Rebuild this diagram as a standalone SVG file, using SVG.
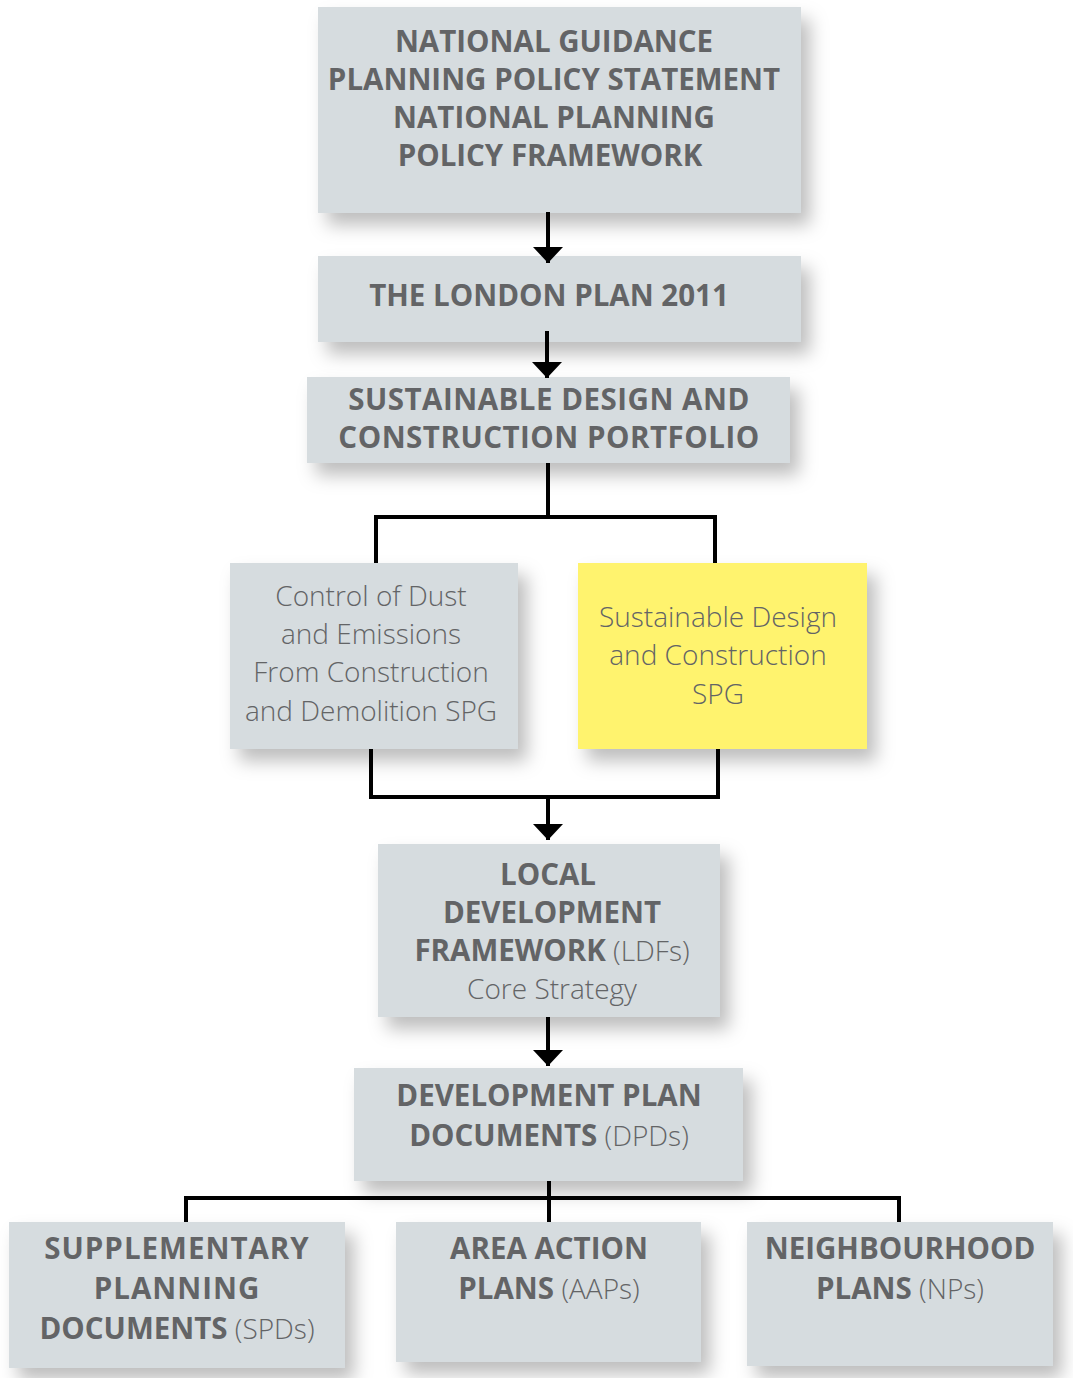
<svg xmlns="http://www.w3.org/2000/svg" width="1073" height="1378" viewBox="0 0 1073 1378">
<defs>
<filter id="sh" x="-20%" y="-20%" width="150%" height="160%">
<feDropShadow dx="9" dy="12" stdDeviation="9" flood-color="#000" flood-opacity="0.26"/>
</filter>
<marker id="ah" viewBox="0 0 16 30" refX="16" refY="15" markerWidth="16" markerHeight="30" markerUnits="userSpaceOnUse" orient="auto">
<path d="M0 0 L16 15 L0 30 Z" fill="#000"/>
</marker>
</defs>
<style>
.box{fill:#d6dcdf;filter:url(#sh)}
.y{fill:#fff36e}
text{font-family:"Open Sans","Noto Sans","Liberation Sans",sans-serif;fill:#636466;text-anchor:middle;font-size:28px}
.b{font-weight:700;font-size:29.5px;letter-spacing:0}
.lt{font-weight:300;font-size:28px;letter-spacing:0}
.w{letter-spacing:1px}
.h{letter-spacing:0.5px}
.c{fill:none;stroke:#000;stroke-width:4}
</style>
<rect width="1073" height="1378" fill="#fff"/>
<g id="n1"><rect class="box" x="318" y="7" width="483" height="206"/>
<text class="b" x="554" y="52">NATIONAL GUIDANCE</text>
<text class="b" x="554" y="90">PLANNING POLICY STATEMENT</text>
<text class="b" x="554" y="128">NATIONAL PLANNING</text>
<text class="b" x="550" y="166">POLICY FRAMEWORK</text></g>
<g id="n2"><rect class="box" x="318" y="256" width="483" height="86"/>
<text class="b" x="549" y="306">THE LONDON PLAN 2011</text></g>
<g id="n3"><rect class="box" x="307" y="377" width="483" height="86"/>
<text class="b h" x="549" y="410">SUSTAINABLE DESIGN AND</text>
<text class="b h" x="549" y="448">CONSTRUCTION PORTFOLIO</text></g>
<g id="n4"><rect class="box" x="230" y="563" width="288" height="186"/>
<text class="lt" x="371" y="606">Control of Dust</text>
<text class="lt" x="371" y="644">and Emissions</text>
<text class="lt" x="371" y="682">From Construction</text>
<text class="lt" x="371" y="721">and Demolition SPG</text></g>
<g id="n5"><rect class="box y" x="578" y="563" width="289" height="186"/>
<text class="lt" x="718" y="627">Sustainable Design</text>
<text class="lt" x="718" y="665">and Construction</text>
<text class="lt" x="718" y="704">SPG</text></g>
<g id="n6"><rect class="box" x="378" y="844" width="342" height="173"/>
<text class="b" x="548" y="885">LOCAL</text>
<text class="b" x="552" y="923">DEVELOPMENT</text>
<text x="552" y="961"><tspan class="b">FRAMEWORK</tspan><tspan class="lt"> (LDFs)</tspan></text>
<text class="lt" x="552" y="999">Core Strategy</text></g>
<g id="n7"><rect class="box" x="354" y="1068" width="389" height="113"/>
<text class="b" x="549" y="1106">DEVELOPMENT PLAN</text>
<text x="549" y="1146"><tspan class="b">DOCUMENTS</tspan><tspan class="lt"> (DPDs)</tspan></text></g>
<g id="n8"><rect class="box" x="9" y="1222" width="336" height="146"/>
<text class="b w" x="177" y="1259">SUPPLEMENTARY</text>
<text class="b w" x="177" y="1299">PLANNING</text>
<text x="177" y="1339"><tspan class="b">DOCUMENTS</tspan><tspan class="lt"> (SPDs)</tspan></text></g>
<g id="n9"><rect class="box" x="396" y="1222" width="305" height="140"/>
<text class="b" x="549" y="1259">AREA ACTION</text>
<text x="549" y="1299"><tspan class="b">PLANS</tspan><tspan class="lt"> (AAPs)</tspan></text></g>
<g id="n10"><rect class="box" x="747" y="1222" width="306" height="144"/>
<text class="b" x="900" y="1259">NEIGHBOURHOOD</text>
<text x="900" y="1299"><tspan class="b">PLANS</tspan><tspan class="lt"> (NPs)</tspan></text></g>
<g id="connectors">
<path class="c" d="M548 212 V263" marker-end="url(#ah)"/>
<path class="c" d="M547 331 V378" marker-end="url(#ah)"/>
<path class="c" d="M548 463 V517 M376 563 V517 H715 V563"/>
<path class="c" d="M371 749 V797 H718 V749"/>
<path class="c" d="M548 797 V840" marker-end="url(#ah)"/>
<path class="c" d="M548 1017 V1066" marker-end="url(#ah)"/>
<path class="c" d="M549 1181 V1222 M186 1222 V1198 H899 V1222"/>
</g>
</svg>
